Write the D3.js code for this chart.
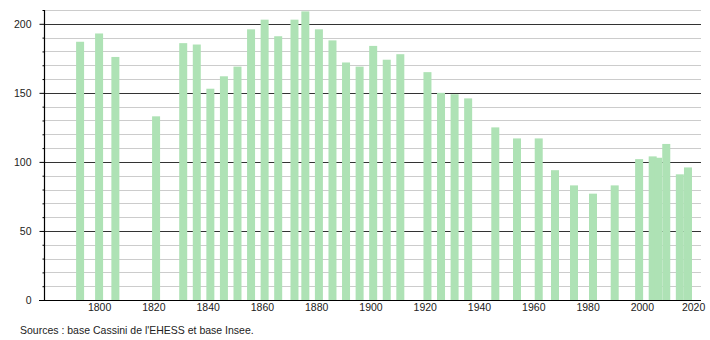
<!DOCTYPE html>
<html>
<head>
<meta charset="utf-8">
<script src="https://cdn.jsdelivr.net/npm/d3@7"></script>
<style>
  html, body { margin: 0; padding: 0; background: #fff; }
  svg { display: block; font-family: "Liberation Sans", Arial, sans-serif; }
</style>
</head>
<body>
<svg id="chart" width="710" height="340"></svg>
<script>
const years = [1793, 1800, 1806, 1821, 1831, 1836, 1841, 1846, 1851, 1856, 1861, 1866, 1872, 1876, 1881, 1886, 1891, 1896, 1901, 1906, 1911, 1921, 1926, 1931, 1936, 1946, 1954, 1962, 1968, 1975, 1982, 1990, 1999, 2004, 2006, 2009, 2014, 2017];
const population = [187, 193, 176, 133, 186, 185, 153, 162, 169, 196, 203, 191, 203, 209, 196, 188, 172, 169, 184, 174, 178, 165, 150, 149, 146, 125, 117, 117, 94, 83, 77, 83, 102, 104, 103, 113, 91, 96];
const xTicks = [1800, 1820, 1840, 1860, 1880, 1900, 1920, 1940, 1960, 1980, 2000, 2020];
const yMajorTicks = [0, 50, 100, 150, 200];
const yMinorTicks = d3.range(0, 211, 10);
const sourceText = "Sources : base Cassini de l'EHESS et base Insee.";

const svg = d3.select("#chart");
const plotLeft = 44, plotRight = 701, plotTop = 10, plotBottom = 300;
const fontSize = 10.5;

const x = d3.scaleLinear().domain([1779.7, 2021.8]).range([plotLeft, plotRight]);
const y = d3.scaleLinear().domain([0, 210]).range([plotBottom, plotTop]);

// minor gridlines
svg.append("g").selectAll("line").data(yMinorTicks.filter(d => d % 50 !== 0)).join("line")
  .attr("x1", plotLeft).attr("x2", plotRight)
  .attr("y1", d => Math.round(y(d)) + 0.5).attr("y2", d => Math.round(y(d)) + 0.5)
  .attr("stroke", "#cccccc").attr("stroke-width", 1);
// major gridlines
svg.append("g").selectAll("line").data(yMajorTicks.filter(d => d > 0)).join("line")
  .attr("x1", plotLeft).attr("x2", plotRight)
  .attr("y1", d => Math.round(y(d)) + 0.5).attr("y2", d => Math.round(y(d)) + 0.5)
  .attr("stroke", "#333333").attr("stroke-width", 1);

// bars
const barW = 8;
svg.append("g").selectAll("rect").data(years.map((yr, i) => ({yr, v: population[i]}))).join("rect")
  .attr("x", d => x(d.yr) - barW / 2)
  .attr("width", barW)
  .attr("y", d => y(d.v))
  .attr("height", d => y(0) - y(d.v))
  .attr("fill", "#aee2b5");

// y axis (major)
const yAxis = d3.axisLeft(y).tickValues(yMajorTicks).tickSize(5).tickPadding(8).tickFormat(d3.format("d"));
const gy = svg.append("g").attr("transform", `translate(${plotLeft + 0.5},0)`).call(yAxis);
gy.select(".domain").remove();
gy.selectAll("text").attr("font-size", fontSize).attr("fill", "#222").attr("font-family", "Liberation Sans, Arial, sans-serif");
gy.selectAll("line").attr("stroke", "#000");
// minor ticks
const yMinorAxis = d3.axisLeft(y).tickValues(yMinorTicks.filter(d => d % 50 !== 0)).tickSize(2).tickFormat("");
const gym = svg.append("g").attr("transform", `translate(${plotLeft + 0.5},0)`).call(yMinorAxis);
gym.select(".domain").remove();
gym.selectAll("line").attr("stroke", "#000");

// axis lines
svg.append("line").attr("x1", plotLeft + 0.5).attr("x2", plotLeft + 0.5).attr("y1", plotTop).attr("y2", plotBottom)
  .attr("stroke", "#000").attr("stroke-width", 1.2);
svg.append("line").attr("x1", 39).attr("x2", plotRight).attr("y1", plotBottom + 0.5).attr("y2", plotBottom + 0.5)
  .attr("stroke", "#000").attr("stroke-width", 1.2);

// x axis labels
const xAxis = d3.axisBottom(x).tickValues(xTicks).tickSize(0).tickPadding(4).tickFormat(d3.format("d"));
const gx = svg.append("g").attr("transform", `translate(0,${plotBottom})`).call(xAxis);
gx.select(".domain").remove();
gx.selectAll("text").attr("font-size", fontSize).attr("fill", "#222").attr("font-family", "Liberation Sans, Arial, sans-serif")
  .attr("dx", d => d === 2020 ? -3 : 0);

// source
svg.append("text").attr("x", 20).attr("y", 334).attr("font-size", fontSize).attr("fill", "#222")
  .text(sourceText);
</script>
</body>
</html>
